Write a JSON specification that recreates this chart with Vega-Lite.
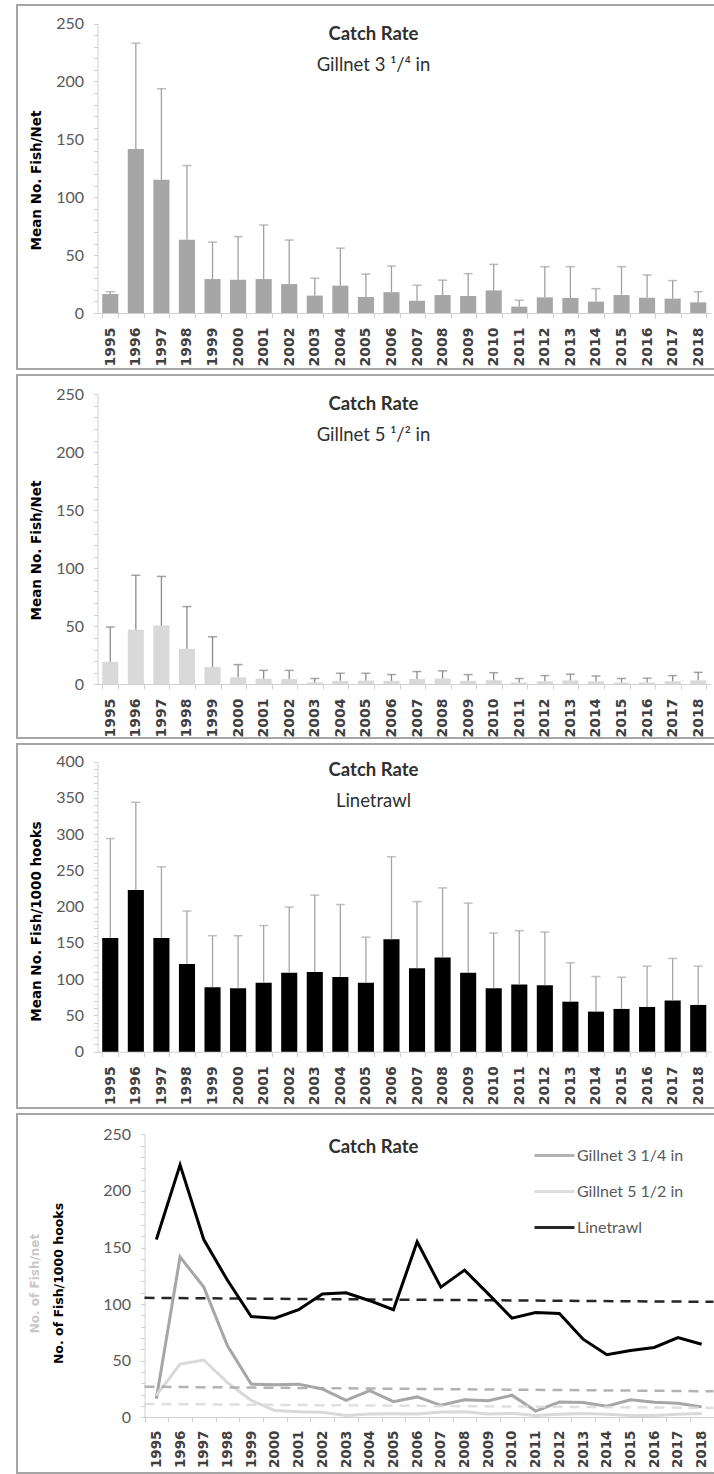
{
  "$schema": "https://vega.github.io/schema/vega-lite/v6.json",
  "padding": {"left": 9, "top": 4, "right": 0, "bottom": 0},
  "spacing": 4,
  "resolve": {"scale": {"color": "independent"}, "legend": {"color": "independent"}},
  "config": {
    "view": {"stroke": "#a6a6a6", "strokeWidth": 2},
    "font": "Lato",
    "title": {"font": "Lato", "fontSize": 18.5, "fontWeight": "bold", "color": "#303030", "subtitleFont": "Lato", "subtitleFontSize": 18.5, "subtitleFontWeight": "normal", "subtitleColor": "#303030", "subtitlePadding": 12, "anchor": "middle", "dx": 5},
    "axis": {"grid": false, "domainColor": "#d0d0d0", "tickColor": "#d0d0d0", "titleFont": "DejaVu Sans", "titleFontWeight": "bold", "titleFontSize": 13.5, "titleColor": "#000000", "labelOverlap": false},
    "axisX": {"labelFont": "DejaVu Sans", "labelFontWeight": "bold", "labelFontSize": 14, "labelColor": "#404040", "labelAngle": -90, "tickSize": 5, "labelPadding": 9, "tickBand": "extent", "title": null},
    "axisY": {"labelFont": "Lato", "labelFontSize": 16, "labelColor": "#595959", "tickSize": 4, "labelPadding": 10, "labelFlush": false, "labelOverlap": false, "labelExpr": "datum.value % 50 === 0 ? datum.label : ''"}
  },
  "datasets": {
    "g3": [
      {"year": "1995", "mean": 16.4, "upper": 18.4},
      {"year": "1996", "mean": 141.7, "upper": 233},
      {"year": "1997", "mean": 115, "upper": 193.7},
      {"year": "1998", "mean": 63.2, "upper": 127.3},
      {"year": "1999", "mean": 29.3, "upper": 61.2},
      {"year": "2000", "mean": 28.7, "upper": 66},
      {"year": "2001", "mean": 29.3, "upper": 76},
      {"year": "2002", "mean": 25, "upper": 63},
      {"year": "2003", "mean": 15, "upper": 30},
      {"year": "2004", "mean": 23.6, "upper": 56},
      {"year": "2005", "mean": 13.8, "upper": 33.6},
      {"year": "2006", "mean": 18, "upper": 40.5},
      {"year": "2007", "mean": 10.6, "upper": 24},
      {"year": "2008", "mean": 15.5, "upper": 28.4},
      {"year": "2009", "mean": 14.7, "upper": 34},
      {"year": "2010", "mean": 19.5, "upper": 42},
      {"year": "2011", "mean": 5.5, "upper": 11},
      {"year": "2012", "mean": 13.5, "upper": 40},
      {"year": "2013", "mean": 13, "upper": 40},
      {"year": "2014", "mean": 9.8, "upper": 21},
      {"year": "2015", "mean": 15.5, "upper": 40},
      {"year": "2016", "mean": 13.2, "upper": 32.8},
      {"year": "2017", "mean": 12.4, "upper": 28},
      {"year": "2018", "mean": 9.2, "upper": 18.4}
    ],
    "g5": [
      {"year": "1995", "mean": 19.4, "upper": 49.4},
      {"year": "1996", "mean": 47, "upper": 94},
      {"year": "1997", "mean": 50.6, "upper": 93},
      {"year": "1998", "mean": 30.6, "upper": 67},
      {"year": "1999", "mean": 15, "upper": 41},
      {"year": "2000", "mean": 6, "upper": 17},
      {"year": "2001", "mean": 4.8, "upper": 12},
      {"year": "2002", "mean": 4.5, "upper": 12},
      {"year": "2003", "mean": 1.6, "upper": 5},
      {"year": "2004", "mean": 3, "upper": 9.5},
      {"year": "2005", "mean": 3.2, "upper": 9.5},
      {"year": "2006", "mean": 3, "upper": 8.4},
      {"year": "2007", "mean": 4.6, "upper": 11},
      {"year": "2008", "mean": 5, "upper": 11.6},
      {"year": "2009", "mean": 3, "upper": 8.4},
      {"year": "2010", "mean": 3.5, "upper": 10},
      {"year": "2011", "mean": 1.6, "upper": 5},
      {"year": "2012", "mean": 2.6, "upper": 7.5},
      {"year": "2013", "mean": 3.4, "upper": 8.7},
      {"year": "2014", "mean": 2.6, "upper": 7.2},
      {"year": "2015", "mean": 1.6, "upper": 5},
      {"year": "2016", "mean": 1.6, "upper": 5.3},
      {"year": "2017", "mean": 2.6, "upper": 7.5},
      {"year": "2018", "mean": 3.4, "upper": 10.3}
    ],
    "lt": [
      {"year": "1995", "mean": 157, "upper": 294},
      {"year": "1996", "mean": 223, "upper": 344},
      {"year": "1997", "mean": 157, "upper": 255},
      {"year": "1998", "mean": 121, "upper": 194},
      {"year": "1999", "mean": 89, "upper": 160},
      {"year": "2000", "mean": 87.6, "upper": 160},
      {"year": "2001", "mean": 95, "upper": 174},
      {"year": "2002", "mean": 109, "upper": 199.5},
      {"year": "2003", "mean": 110, "upper": 216},
      {"year": "2004", "mean": 103, "upper": 203},
      {"year": "2005", "mean": 95, "upper": 158},
      {"year": "2006", "mean": 155, "upper": 269},
      {"year": "2007", "mean": 115, "upper": 207},
      {"year": "2008", "mean": 130, "upper": 226},
      {"year": "2009", "mean": 109, "upper": 205},
      {"year": "2010", "mean": 87.6, "upper": 163.6},
      {"year": "2011", "mean": 92.6, "upper": 167},
      {"year": "2012", "mean": 91.7, "upper": 165},
      {"year": "2013", "mean": 69, "upper": 122.6},
      {"year": "2014", "mean": 55.3, "upper": 103.7},
      {"year": "2015", "mean": 59, "upper": 102.8},
      {"year": "2016", "mean": 61.7, "upper": 118},
      {"year": "2017", "mean": 70.5, "upper": 128.6},
      {"year": "2018", "mean": 64.5, "upper": 118}
    ],
    "trend": [
      {"series": "Linetrawl", "yr": 1994.5, "value": 105.5},
      {"series": "Linetrawl", "yr": 2018.5, "value": 102},
      {"series": "Gillnet 3 1/4 in", "yr": 1994.5, "value": 27},
      {"series": "Gillnet 3 1/4 in", "yr": 2018.5, "value": 23},
      {"series": "Gillnet 5 1/2 in", "yr": 1994.5, "value": 11.8},
      {"series": "Gillnet 5 1/2 in", "yr": 2018.5, "value": 8.3}
    ]
  },
  "vconcat": [
    {
      "width": 703, "height": 364,
      "title": {"text": "Catch Rate", "subtitle": "Gillnet 3 ¹/⁴ in", "offset": -69},
      "data": {"name": "g3"},
      "layer": [
        {
          "mark": {"type": "bar", "color": "#a6a6a6"},
          "encoding": {
            "x": {"field": "year", "type": "ordinal", "scale": {"range": [80.5, 694], "paddingInner": 0.37, "paddingOuter": 0.185}, "axis": {"offset": -56}},
            "y": {"field": "mean", "type": "quantitative", "scale": {"domain": [0, 250], "range": [308, 18.5], "nice": false}, "axis": {"offset": -80.5, "labelOverlap": false, "values": [0,10,20,30,40,50,60,70,80,90,100,110,120,130,140,150,160,170,180,190,200,210,220,230,240,250], "title": "Mean No. Fish/Net", "titleX": -54, "titleY": 175}}
          }
        },
        {
          "mark": {"type": "rule", "color": "#a0a0a0", "strokeWidth": 1.3},
          "encoding": {
            "x": {"field": "year", "type": "ordinal"},
            "y": {"field": "mean", "type": "quantitative", "axis": {"offset": -80.5, "labelOverlap": false, "values": [0,10,20,30,40,50,60,70,80,90,100,110,120,130,140,150,160,170,180,190,200,210,220,230,240,250], "title": "Mean No. Fish/Net", "titleX": -54, "titleY": 175}},
            "y2": {"field": "upper"}
          }
        },
        {
          "mark": {"type": "tick", "orient": "horizontal", "size": 9, "thickness": 1.5, "color": "#a0a0a0"},
          "encoding": {
            "x": {"field": "year", "type": "ordinal"},
            "y": {"field": "upper", "type": "quantitative", "axis": {"offset": -80.5, "labelOverlap": false, "values": [0,10,20,30,40,50,60,70,80,90,100,110,120,130,140,150,160,170,180,190,200,210,220,230,240,250], "title": "Mean No. Fish/Net", "titleX": -54, "titleY": 175}}
          }
        }
      ]
    },
    {
      "width": 703, "height": 363,
      "title": {"text": "Catch Rate", "subtitle": "Gillnet 5 ¹/² in", "offset": -69},
      "data": {"name": "g5"},
      "layer": [
        {
          "mark": {"type": "bar", "color": "#d9d9d9"},
          "encoding": {
            "x": {"field": "year", "type": "ordinal", "scale": {"range": [80.5, 694], "paddingInner": 0.37, "paddingOuter": 0.185}, "axis": {"offset": -54}},
            "y": {"field": "mean", "type": "quantitative", "scale": {"domain": [0, 250], "range": [309.3, 19.3], "nice": false}, "axis": {"offset": -80.5, "labelOverlap": false, "values": [0,10,20,30,40,50,60,70,80,90,100,110,120,130,140,150,160,170,180,190,200,210,220,230,240,250], "title": "Mean No. Fish/Net", "titleX": -54, "titleY": 175}}
          }
        },
        {
          "mark": {"type": "rule", "color": "#8c8c8c", "strokeWidth": 1.3},
          "encoding": {
            "x": {"field": "year", "type": "ordinal"},
            "y": {"field": "mean", "type": "quantitative", "axis": {"offset": -80.5, "labelOverlap": false, "values": [0,10,20,30,40,50,60,70,80,90,100,110,120,130,140,150,160,170,180,190,200,210,220,230,240,250], "title": "Mean No. Fish/Net", "titleX": -54, "titleY": 175}},
            "y2": {"field": "upper"}
          }
        },
        {
          "mark": {"type": "tick", "orient": "horizontal", "size": 9, "thickness": 1.5, "color": "#808080"},
          "encoding": {
            "x": {"field": "year", "type": "ordinal"},
            "y": {"field": "upper", "type": "quantitative", "axis": {"offset": -80.5, "labelOverlap": false, "values": [0,10,20,30,40,50,60,70,80,90,100,110,120,130,140,150,160,170,180,190,200,210,220,230,240,250], "title": "Mean No. Fish/Net", "titleX": -54, "titleY": 175}}
          }
        }
      ]
    },
    {
      "width": 703, "height": 364,
      "title": {"text": "Catch Rate", "subtitle": "Linetrawl", "offset": -66},
      "data": {"name": "lt"},
      "layer": [
        {
          "mark": {"type": "bar", "color": "#000000"},
          "encoding": {
            "x": {"field": "year", "type": "ordinal", "scale": {"range": [80.5, 694], "paddingInner": 0.37, "paddingOuter": 0.185}, "axis": {"offset": -56.3}},
            "y": {"field": "mean", "type": "quantitative", "scale": {"domain": [0, 400], "range": [307.7, 17.7], "nice": false}, "axis": {"offset": -80.5, "labelOverlap": false, "values": [0,10,20,30,40,50,60,70,80,90,100,110,120,130,140,150,160,170,180,190,200,210,220,230,240,250,260,270,280,290,300,310,320,330,340,350,360,370,380,390,400], "title": "Mean No. Fish/1000 hooks", "titleX": -54, "titleY": 177}}
          }
        },
        {
          "mark": {"type": "rule", "color": "#a6a6a6", "strokeWidth": 1.3},
          "encoding": {
            "x": {"field": "year", "type": "ordinal"},
            "y": {"field": "mean", "type": "quantitative", "axis": {"offset": -80.5, "labelOverlap": false, "values": [0,10,20,30,40,50,60,70,80,90,100,110,120,130,140,150,160,170,180,190,200,210,220,230,240,250,260,270,280,290,300,310,320,330,340,350,360,370,380,390,400], "title": "Mean No. Fish/1000 hooks", "titleX": -54, "titleY": 177}},
            "y2": {"field": "upper"}
          }
        },
        {
          "mark": {"type": "tick", "orient": "horizontal", "size": 9, "thickness": 1.5, "color": "#a6a6a6"},
          "encoding": {
            "x": {"field": "year", "type": "ordinal"},
            "y": {"field": "upper", "type": "quantitative", "axis": {"offset": -80.5, "labelOverlap": false, "values": [0,10,20,30,40,50,60,70,80,90,100,110,120,130,140,150,160,170,180,190,200,210,220,230,240,250,260,270,280,290,300,310,320,330,340,350,360,370,380,390,400], "title": "Mean No. Fish/1000 hooks", "titleX": -54, "titleY": 177}}
          }
        }
      ]
    },
    {
      "width": 703, "height": 359,
      "title": {"text": "Catch Rate", "offset": -42},
      "resolve": {"scale": {"x": "independent", "y": "independent"}},
      "layer": [
        {
          "data": {"name": "lt"},
          "mark": {"type": "line", "strokeWidth": 3},
          "encoding": {
            "x": {"field": "year", "type": "ordinal", "scale": {"type": "band", "range": [127.5, 696.5], "paddingInner": 0, "paddingOuter": 0}, "axis": {"offset": -56, "labelPadding": 8, "labelFontSize": 13.5}},
            "y": {"field": "mean", "type": "quantitative", "scale": {"domain": [0, 250], "range": [303.3, 20.3], "nice": false}, "axis": {"offset": -127.5, "values": [0,10,20,30,40,50,60,70,80,90,100,110,120,130,140,150,160,170,180,190,200,210,220,230,240,250], "title": "No. of Fish/1000 hooks", "titleFontSize": 12.5, "titleX": -79, "titleY": 169}},
            "color": {"datum": "Linetrawl", "type": "nominal", "scale": {"domain": ["Gillnet 3 1/4 in", "Gillnet 5 1/2 in", "Linetrawl"], "range": ["#a6a6a6", "#d9d9d9", "#000000"]}, "legend": {"title": null, "orient": "none", "legendX": 516, "legendY": 20, "symbolType": "stroke", "symbolSize": 1600, "symbolStrokeWidth": 3, "symbolDash": [0], "rowPadding": 6, "labelOffset": 1, "labelFont": "Lato", "labelFontSize": 16, "labelColor": "#595959"}}
          }
        },
        {
          "layer": [
            {
              "data": {"name": "g3"},
              "mark": {"type": "line", "strokeWidth": 3},
              "encoding": {
                "x": {"field": "year", "type": "ordinal", "scale": {"type": "band", "range": [127.5, 696.5], "paddingInner": 0, "paddingOuter": 0}, "axis": null},
                "y": {"field": "mean", "type": "quantitative", "scale": {"domain": [0, 250], "range": [303.3, 20.3], "nice": false}, "axis": {"orient": "left", "offset": -127.5, "labels": false, "ticks": false, "domain": false, "title": "No. of Fish/net", "titleColor": "#c8c8c8", "titleFontSize": 12, "titleX": -103, "titleY": 169}},
                "color": {"datum": "Gillnet 3 1/4 in", "type": "nominal", "legend": {"title": null}}
              }
            },
            {
              "data": {"name": "g5"},
              "mark": {"type": "line", "strokeWidth": 3},
              "encoding": {
                "x": {"field": "year", "type": "ordinal"},
                "y": {"field": "mean", "type": "quantitative"},
                "color": {"datum": "Gillnet 5 1/2 in", "type": "nominal", "legend": {"title": null}}
              }
            }
          ]
        },
        {
          "data": {"name": "trend"},
          "mark": {"type": "line", "strokeWidth": 2.5, "strokeDash": [10, 7], "opacity": 0.85},
          "encoding": {
            "x": {"field": "yr", "type": "quantitative", "scale": {"domain": [1994.5, 2018.5], "range": [127.5, 696.5], "nice": false, "zero": false}, "axis": null},
            "y": {"field": "value", "type": "quantitative", "scale": {"domain": [0, 250], "range": [303.3, 20.3], "nice": false}, "axis": null},
            "color": {"field": "series", "type": "nominal", "legend": {"title": null}}
          }
        }
      ]
    }
  ]
}
